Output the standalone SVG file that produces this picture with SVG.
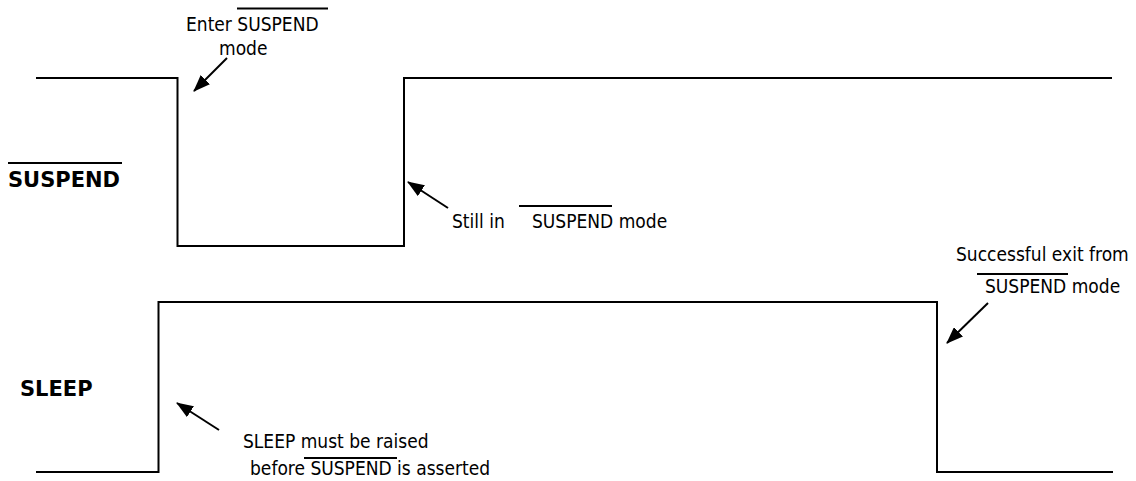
<svg xmlns="http://www.w3.org/2000/svg" width="1136" height="481" viewBox="0 0 1136 481">
<style>
.wave{fill:none;stroke:#000;stroke-width:2}
.ptr{fill:none;stroke:#000;stroke-width:2}
.ov{stroke:#000;stroke-width:2}
.t{font-family:"DejaVu Sans Condensed","DejaVu Sans",sans-serif;font-size:19px;fill:#000}
.b{font-family:"DejaVu Sans","Liberation Sans",sans-serif;font-size:21px;font-weight:bold;fill:#000}
</style>
<defs>
<marker id="ah" viewBox="0 0 17 13" refX="16" refY="6.5" markerWidth="8.5" markerHeight="6.5" markerUnits="strokeWidth" orient="auto">
<path d="M0,0 L17,6.5 L0,13 z" fill="#000"/>
</marker>
</defs>
<rect width="1136" height="481" fill="#fff"/>
<g id="suspend-signal">
<path class="wave" d="M36,78 H177.5 V246 H404 V78 H1112"/>
<text class="b" x="8" y="187">SUSPEND</text>
<line class="ov" x1="8" y1="163" x2="122" y2="163"/>
</g>
<g id="sleep-signal">
<path class="wave" d="M36,472 H158.5 V302 H937 V472 H1113"/>
<text class="b" x="20" y="396">SLEEP</text>
</g>
<g id="annotations">
<g id="enter-suspend">
<text class="t" x="186" y="31">Enter SUSPEND</text>
<line class="ov" x1="237" y1="8.5" x2="328" y2="8.5"/>
<text class="t" x="219" y="55">mode</text>
</g>
<g id="still-in">
<text class="t" x="452" y="228">Still in</text>
<text class="t" x="532" y="228">SUSPEND mode</text>
<line class="ov" x1="519" y1="206" x2="612" y2="206"/>
</g>
<g id="successful-exit">
<text class="t" x="956" y="261">Successful exit from</text>
<text class="t" x="985" y="293">SUSPEND mode</text>
<line class="ov" x1="977" y1="274" x2="1068" y2="274"/>
</g>
<g id="sleep-raised">
<text class="t" x="243" y="448">SLEEP must be raised</text>
<text class="t" x="250" y="475">before SUSPEND is asserted</text>
<line class="ov" x1="304" y1="458" x2="397" y2="458"/>
</g>
</g>
<g id="connectors">
<line class="ptr" x1="227" y1="58" x2="194" y2="91" marker-end="url(#ah)"/>
<line class="ptr" x1="448" y1="208" x2="408" y2="182" marker-end="url(#ah)"/>
<line class="ptr" x1="988" y1="303" x2="947" y2="343" marker-end="url(#ah)"/>
<line class="ptr" x1="219" y1="430" x2="177" y2="403" marker-end="url(#ah)"/>
</g>
</svg>
